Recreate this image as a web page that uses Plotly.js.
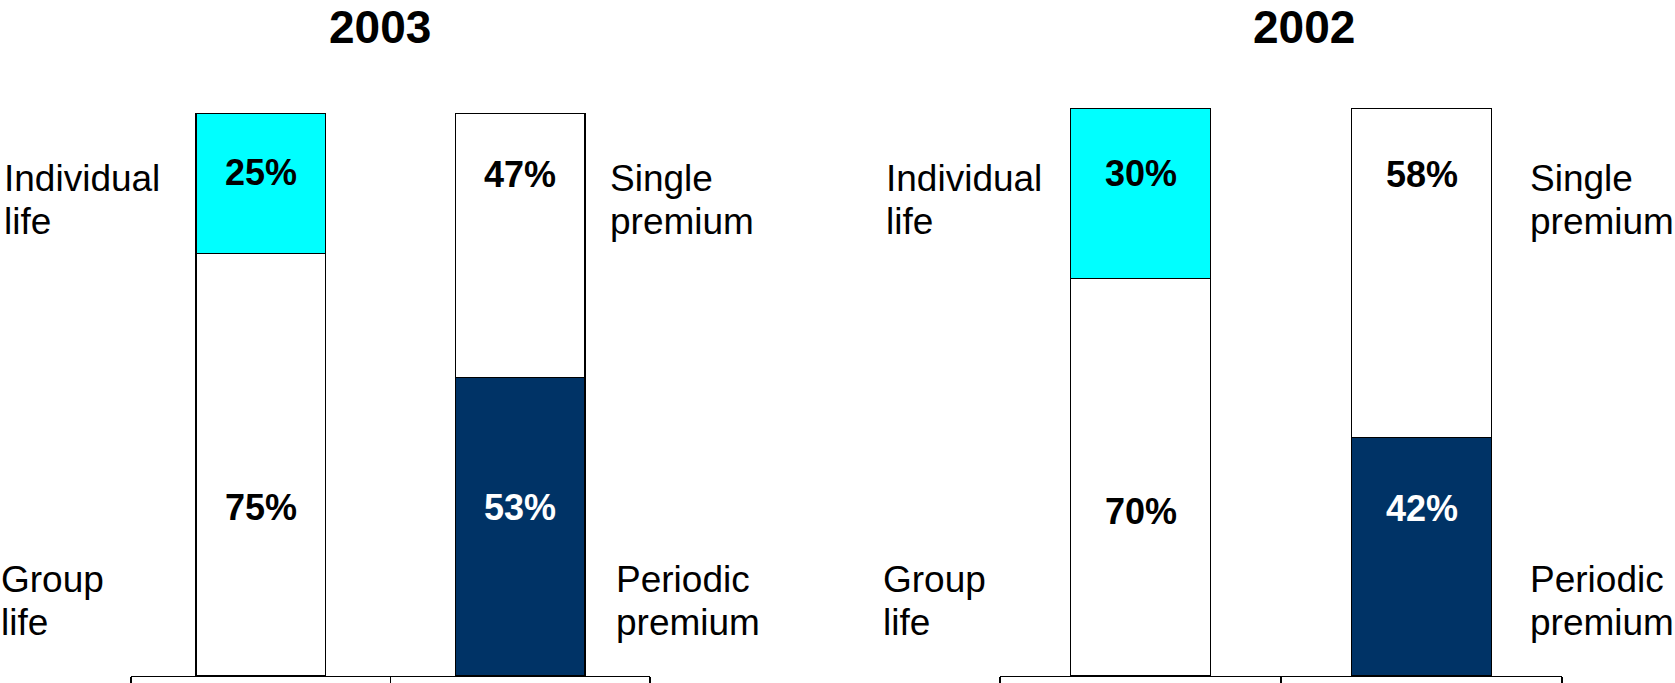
<!DOCTYPE html>
<html>
<head>
<meta charset="utf-8">
<script src="https://cdn.plot.ly/plotly-3.0.1.min.js"></script>
<style>html,body{margin:0;padding:0;background:#fff;}#chart{width:1675px;height:683px;}</style>
</head>
<body>
<div id="chart"></div>
<script>
// ---- data ----
const years = ["2003", "2002"];
const categories = ["Business line", "Premium type"];
const groupLife = [75, 70];
const individualLife = [25, 30];
const periodicPremium = [53, 42];
const singlePremium = [47, 58];
const segmentNames = {
  groupLife: ["Group", "life"],
  individualLife: ["Individual", "life"],
  singlePremium: ["Single", "premium"],
  periodicPremium: ["Periodic", "premium"]
};

// ---- styling ----
const W = 1675, H = 683;
const CYAN = "#00FFFF", NAVY = "#003366", WHITE = "#FFFFFF";
const FONT = "Liberation Sans, Arial, sans-serif";
const px = x => x / W;
const py = y => 1 - y / H;

const panelX = [[131, 650], [1000, 1562]];
const panelTop = [113, 108];
const panelBottom = 676;
const titleX = [380, 1304];
const leftLabelX = [2, 884];
const rightLabelX = [[608, 614], [1528, 1528]];
const topLabelY = [[89.5, 89], [88.5, 88.3]];
const bottomLabelY = [[30, 30], [29, 29.5]];

const traces = [];
const annotations = [];
const layout = {
  width: W, height: H,
  margin: {l: 0, r: 0, t: 0, b: 0},
  paper_bgcolor: WHITE, plot_bgcolor: WHITE,
  barmode: "stack",
  bargap: 0.5,
  showlegend: false,
  font: {family: FONT, color: "#000"}
};

years.forEach((yr, i) => {
  const xa = i === 0 ? "x" : "x2";
  const ya = i === 0 ? "y" : "y2";
  const bottom = [groupLife[i], periodicPremium[i]];
  const top = [individualLife[i], singlePremium[i]];
  traces.push({
    type: "bar", x: categories, y: bottom, xaxis: xa, yaxis: ya,
    marker: {color: [WHITE, NAVY], line: {color: "#000", width: 1.3}},
    hoverinfo: "skip"
  });
  traces.push({
    type: "bar", x: categories, y: top, xaxis: xa, yaxis: ya,
    marker: {color: [CYAN, WHITE], line: {color: "#000", width: 1.3}},
    hoverinfo: "skip"
  });
  const axSuffix = i === 0 ? "" : "2";
  layout["xaxis" + axSuffix] = {
    domain: [px(panelX[i][0]), px(panelX[i][1])],
    anchor: ya,
    type: "category",
    range: [-0.5, 1.5],
    showticklabels: false,
    showgrid: false, zeroline: false,
    showline: true, linecolor: "#000", linewidth: 1.3,
    ticks: "outside", tickson: "boundaries", ticklen: 9, tickcolor: "#000", tickwidth: 1.3,
    fixedrange: true
  };
  layout["yaxis" + axSuffix] = {
    domain: [py(panelBottom), py(panelTop[i])],
    anchor: xa,
    range: [0, 100],
    visible: false,
    showgrid: false, zeroline: false,
    fixedrange: true
  };
  // title
  annotations.push({
    text: "<b>" + yr + "</b>", xref: "paper", yref: "paper",
    x: px(titleX[i]), y: 1, xanchor: "center", yanchor: "top", borderpad: 0,
    showarrow: false, font: {size: 46, family: FONT, color: "#000"}
  });
  // value labels
  const lblFont = c => ({size: 36, family: FONT, color: c});
  annotations.push({text: "<b>" + top[0] + "%</b>", x: categories[0], y: topLabelY[i][0], xref: xa, yref: ya,
    showarrow: false, xanchor: "center", yanchor: "middle", font: lblFont("#000")});
  annotations.push({text: "<b>" + bottom[0] + "%</b>", x: categories[0], y: bottomLabelY[i][0], xref: xa, yref: ya,
    showarrow: false, xanchor: "center", yanchor: "middle", font: lblFont("#000")});
  annotations.push({text: "<b>" + top[1] + "%</b>", x: categories[1], y: topLabelY[i][1], xref: xa, yref: ya,
    showarrow: false, xanchor: "center", yanchor: "middle", font: lblFont("#000")});
  annotations.push({text: "<b>" + bottom[1] + "%</b>", x: categories[1], y: bottomLabelY[i][1], xref: xa, yref: ya,
    showarrow: false, xanchor: "center", yanchor: "middle", font: lblFont(WHITE)});
  // segment names (one annotation per line)
  const nameFont = {size: 37, family: FONT, color: "#000"};
  const addName = (lines, xPix, yPix) => {
    lines.forEach((t, k) => annotations.push({
      text: t, xref: "paper", yref: "paper", x: px(xPix), y: py(yPix[k]),
      xanchor: "left", yanchor: "middle", showarrow: false, font: nameFont
    }));
  };
  addName(segmentNames.individualLife, leftLabelX[i], [178, 222]);
  addName(segmentNames.groupLife, leftLabelX[i] - 3, [579, 622]);
  addName(segmentNames.singlePremium, rightLabelX[i][0], [178, 222]);
  addName(segmentNames.periodicPremium, rightLabelX[i][1], [579, 622]);
});
layout.annotations = annotations;

Plotly.newPlot("chart", traces, layout, {displayModeBar: false, staticPlot: true});
</script>
</body>
</html>
